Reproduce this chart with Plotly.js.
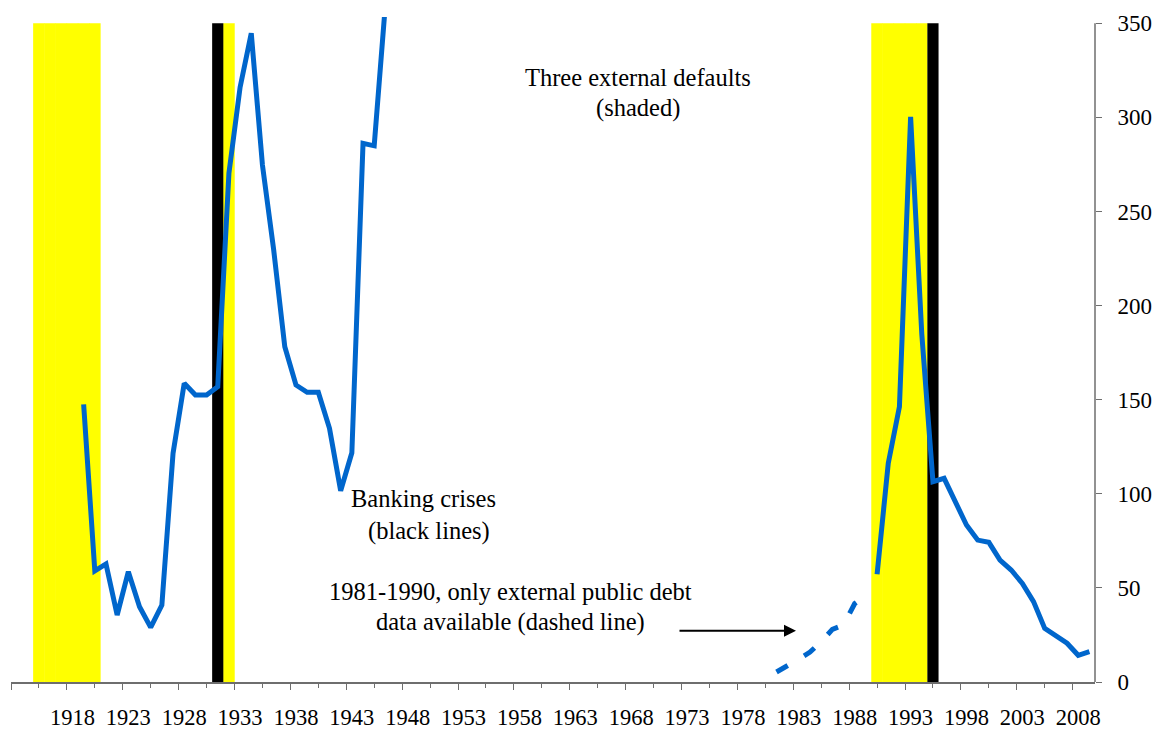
<!DOCTYPE html>
<html>
<head>
<meta charset="utf-8">
<script src="https://cdn.plot.ly/plotly-3.0.1.min.js"></script>
<style>
html,body{margin:0;padding:0;background:#fff;}
#chart{width:1154px;height:729px;}
</style>
</head>
<body>
<div id="chart"></div>
<script>
// ---- data ----
const yearsEarly = [1919,1920,1921,1922,1923,1924,1925,1926,1927,1928,1929,1930,1931,1932,1933,1934,1935,1936,1937,1938,1939,1940,1941,1942,1943,1944,1945,1946];
const valuesEarly = [147.5,59,62.7,35.6,58.6,40,29,40.9,121.5,158.7,152.5,152.5,156.9,270.3,316,344.7,274.7,229.9,178.1,157.8,153.9,153.9,134.8,101.6,121.8,286.2,284.9,360];

const yearsExternal = [1981,1982,1983,1984,1985,1986,1987,1988,1989];
const valuesExternal = [5.3,8.5,12.2,15.9,21.4,28,30.3,41.7,46];

const yearsLate = [1990,1991,1992,1993,1994,1995,1996,1997,1998,1999,2000,2001,2002,2003,2004,2005,2006,2007,2008,2009];
const valuesLate = [57.2,116.2,146.3,300.3,185,106.4,108.2,96,83.4,75.4,74.2,64.8,59.5,52.4,42.7,28.5,24.4,20.6,14.2,16.1];

const defaultYears = [1915,1916,1917,1918,1919,1920,1932,1990,1991,1992,1993,1994];
const bankingCrisisYears = [1931,1995];
const shadeTop = 350;

const xLabelYears = [1918,1923,1928,1933,1938,1943,1948,1953,1958,1963,1968,1973,1978,1983,1988,1993,1998,2003,2008];
const yTickVals = [0,50,100,150,200,250,300,350];

// ---- chart ----
const serif = 'Liberation Serif, Times New Roman, serif';
const blue = '#0066CC';
const axisGrey = '#6e6e6e';

const traces = [
  {type:'bar', x: defaultYears, y: defaultYears.map(()=>shadeTop), width: defaultYears.map(()=>1.04),
   marker:{color:'#FFFF00', line:{width:0}}, hoverinfo:'skip', showlegend:false},
  {type:'bar', x: bankingCrisisYears, y: bankingCrisisYears.map(()=>shadeTop), width: bankingCrisisYears.map(()=>1),
   marker:{color:'#000000', line:{width:0}}, hoverinfo:'skip', showlegend:false},
  {type:'scatter', mode:'lines', x: yearsEarly, y: valuesEarly,
   line:{color:blue, width:5}, showlegend:false},
  {type:'scatter', mode:'lines', x: yearsLate, y: valuesLate,
   line:{color:blue, width:5}, showlegend:false},
  {type:'scatter', mode:'lines', x: yearsExternal, y: valuesExternal, xaxis:'x2',
   line:{color:blue, width:5, dash:'13px,19px'}, showlegend:false}
];

const xr = [1912.5, 2009.5];
const PX = (p)=> (p-11)/1084;
const PY = (p)=> (682-p)/665;

function ann(text, px, py){
  return {text:text, xref:'paper', yref:'paper', x:PX(px), y:PY(py), xanchor:'center', yanchor:'middle',
          showarrow:false, font:{family:serif, size:24.5, color:'#000'}};
}

const layout = {
  width:1154, height:729,
  margin:{l:11, r:59, t:17, b:47, pad:0},
  paper_bgcolor:'#fff', plot_bgcolor:'rgba(0,0,0,0)',
  barmode:'overlay',
  showlegend:false,
  xaxis:{
    range:xr, showgrid:false, zeroline:false,
    showline:true, linecolor:axisGrey, linewidth:1.5,
    tickmode:'linear', tick0:1912.5, dtick:5, ticks:'outside', ticklen:6, tickcolor:axisGrey, tickwidth:1,
    showticklabels:false,
    minor:{ticks:'outside', tick0:1915, dtick:5, ticklen:4, tickcolor:axisGrey, tickwidth:1, showgrid:false}
  },
  xaxis2:{
    range:xr, overlaying:'x', anchor:'y', side:'bottom',
    showgrid:false, zeroline:false, showline:false, ticks:'',
    tickmode:'array', tickvals:xLabelYears, ticktext:xLabelYears.map(String),
    tickfont:{family:serif, size:22.5, color:'#000'}, ticklabelstandoff:19
  },
  yaxis:{
    range:[0, 353.35], side:'right', showgrid:false, zeroline:false, showline:false,
    tickmode:'array', tickvals:yTickVals, ticktext:yTickVals.map(String),
    ticks:'outside', ticklen:6, tickcolor:axisGrey, tickwidth:1,
    tickfont:{family:serif, size:23, color:'#000'}, ticklabelstandoff:11
  },
  shapes:[
    {type:'line', xref:'paper', yref:'y', x0:1, x1:1, y0:0, y1:shadeTop, line:{color:axisGrey, width:1.5}}
  ],
  annotations:[
    ann('Three external defaults', 638, 77),
    ann('(shaded)', 638, 108),
    ann('Banking crises', 423.7, 498),
    ann('(black lines)', 428.6, 530.5),
    ann('1981-1990, only external public debt', 510.5, 591),
    ann('data available (dashed line)', 510, 622),
    {text:'', xref:'paper', yref:'paper', x:PX(796), y:PY(630.7), ax:-118, ay:0,
     showarrow:true, arrowhead:2, arrowsize:1.2, arrowwidth:2, arrowcolor:'#000', standoff:0}
  ]
};

Plotly.newPlot('chart', traces, layout, {displayModeBar:false, staticPlot:true});
</script>
</body>
</html>
